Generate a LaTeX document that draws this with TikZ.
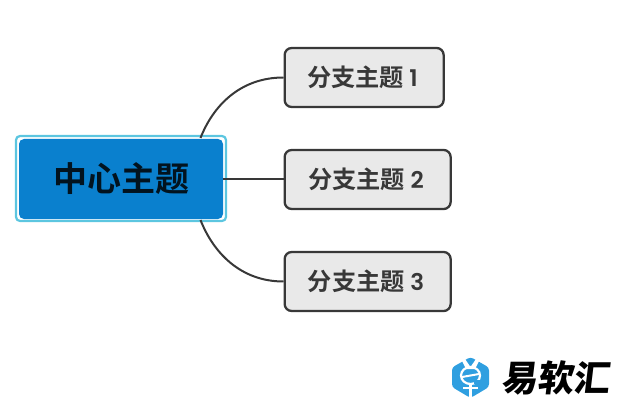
\documentclass[tikz,border=0pt]{standalone}
\usepackage{fontspec}
\setmainfont{Noto Sans CJK SC}[BoldFont={Noto Sans CJK SC Bold}]
\newfontfamily\cjkb{Noto Sans CJK SC Bold}
\newfontfamily\logof{Noto Sans CJK SC Black}[FakeSlant=0.12]
\newfontfamily\latnum{Poppins SemiBold}
\definecolor{cblue}{HTML}{0A80CE}
\definecolor{chalo}{HTML}{5CC6E0}
\definecolor{cbox}{HTML}{E9E9E9}
\definecolor{cline}{HTML}{383838}
\definecolor{clogo}{HTML}{2F9FE0}
\tikzset{
  branchbox/.style={draw=cline,line width=2.3pt,fill=cbox,rounded corners=7pt,minimum height=59pt,inner sep=0pt,anchor=west},
  centerbox/.style={fill=cblue,rounded corners=5pt,minimum width=204pt,minimum height=80pt,inner sep=0pt},
  halo/.style={draw=chalo,line width=2.2pt,fill=white,rounded corners=4pt},
  wire/.style={draw=cline,line width=2pt},
  centertext/.style={text=black!85!cblue,font=\cjkb\fontsize{34}{36}\selectfont,inner sep=0pt},
  branchtext/.style={text=cline,font=\cjkb\fontsize{24.2}{26}\selectfont,inner sep=0pt,anchor=center},
}
\newcommand{\nm}[1]{{\latnum\fontsize{23}{26}\selectfont #1}}
\begin{document}
\begin{tikzpicture}[x=1pt,y=-1pt]
\useasboundingbox (0,0) rectangle (617,403);
\node[halo,minimum width=210pt,minimum height=85pt,inner sep=0pt] (halo) at (121,178.5) {};
\node[centerbox] (center) at (121,179) {};
\node[branchbox,minimum width=159pt] (b1) at (283.5,77.5) {};
\node[branchbox,minimum width=166pt] (b2) at (283.5,179.5) {};
\node[branchbox,minimum width=166pt] (b3) at (283.5,281.5) {};
\coordinate (ctop) at (200.5,138);
\coordinate (cbot) at (200.5,220);
\coordinate (cright) at (223,179);
\draw[wire] (ctop) .. controls (213,106) and (240,77.5) .. (b1.west);
\draw[wire] (cright) -- (cright -| b2.west);
\draw[wire] (cbot) .. controls (213,252) and (240,281.5) .. (b3.west);
\node[centertext] (ct) at (121.5,179) {中心主题};
\node[branchtext] (t1) at (362.5,77.5) {分支主题 \nm{1}};
\node[branchtext] (t2) at (366,179) {分支主题 \nm{2}};
\node[branchtext] (t3) at (366,281) {分支主题 \nm{3}};
% logo
\fill[clogo,rounded corners=3pt] (470.5,357) -- (489,367.5) -- (489,387) -- (470.5,398) -- (452,387) -- (452,367.5) -- cycle;
\fill[white] (461.5,360) -- (465,359) -- (470.5,367) -- (476,359) -- (479.5,360) -- (475,369) -- (466,369) -- cycle;
\draw[white,line width=2.2pt] (470.5,375.5) ellipse[x radius=9.5pt,y radius=8.5pt];
\draw[white,line width=2pt] (462,377) -- (479,374);
\fill[clogo] (474,380) rectangle (481,384);
\draw[white,line width=3pt] (470.5,384) -- (470.5,398);
\draw[white,line width=2.5pt] (463,388) -- (478,388);
\node[font=\logof\fontsize{36}{38}\selectfont,text=black,inner sep=0pt] (logo) at (555,378) {易软汇};
\end{tikzpicture}
\end{document}
